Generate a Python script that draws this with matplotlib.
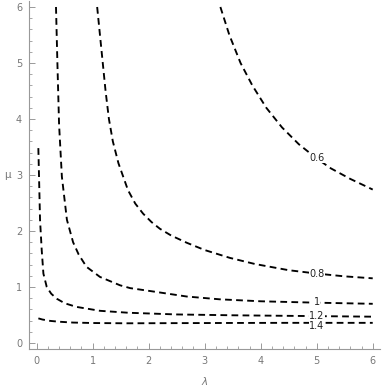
import matplotlib
matplotlib.use("Agg")
import matplotlib.pyplot as plt
from matplotlib.ticker import MultipleLocator

# Contour levels and their traced paths (lambda, mu)
levels = ["0.6", "0.8", "1", "1.2", "1.4"]

lam_06 = [3.28, 3.44, 3.64, 3.85, 4.10, 4.38, 4.68, 4.98, 5.25, 5.60, 6.00]
mu_06 = [6.00, 5.50, 5.00, 4.60, 4.20, 3.85, 3.55, 3.31, 3.12, 2.93, 2.74]

lam_08 = [1.08, 1.11, 1.18, 1.23, 1.29, 1.36, 1.46, 1.63, 1.76, 1.90, 2.05, 2.20, 2.40, 2.68, 3.00, 3.45, 3.90, 4.50, 5.00, 5.50, 6.00]
mu_08 = [6.00, 5.70, 5.00, 4.50, 4.00, 3.60, 3.21, 2.73, 2.49, 2.31, 2.16, 2.04, 1.92, 1.79, 1.66, 1.52, 1.41, 1.30, 1.24, 1.19, 1.155]

lam_10 = [0.345, 0.37, 0.40, 0.45, 0.54, 0.65, 0.75, 0.89, 1.13, 1.49, 1.67, 2.08, 2.68, 3.27, 4.00, 5.00, 6.00]
mu_10 = [6.00, 5.00, 3.90, 2.97, 2.20, 1.80, 1.58, 1.36, 1.18, 1.03, 0.98, 0.92, 0.83, 0.78, 0.745, 0.72, 0.70]

lam_12 = [0.03, 0.06, 0.09, 0.12, 0.18, 0.26, 0.36, 0.50, 0.71, 1.13, 1.64, 2.50, 3.50, 4.00, 5.00, 6.00]
mu_12 = [3.48, 2.20, 1.66, 1.24, 1.00, 0.88, 0.79, 0.71, 0.645, 0.575, 0.54, 0.51, 0.495, 0.49, 0.48, 0.47]

lam_14 = [0.03, 0.10, 0.24, 0.40, 0.65, 1.00, 1.60, 2.50, 3.50, 4.50, 6.00]
mu_14 = [0.44, 0.42, 0.395, 0.38, 0.365, 0.357, 0.352, 0.355, 0.358, 0.36, 0.36]

paths = [(lam_06, mu_06), (lam_08, mu_08), (lam_10, mu_10), (lam_12, mu_12), (lam_14, mu_14)]

# label positions (lambda, mu)
label_lam = [5.0, 5.0, 5.0, 5.0, 5.0]
label_mu = [3.31, 1.24, 0.737, 0.49, 0.30]

xticks = [0, 1, 2, 3, 4, 5, 6]
yticks = [0, 1, 2, 3, 4, 5, 6]

W, H = 382, 389
fig = plt.figure(figsize=(W / 100, H / 100), dpi=100)
ax = fig.add_axes([29 / W, 1 - 349 / H, (380.4 - 29) / W, (349 - 1) / H])

for (lx, ly) in paths:
    ax.plot(lx, ly, color="black", lw=1.35, linestyle=(0, (3.6, 2.3)),
            solid_capstyle="butt", dash_capstyle="butt")

for lab, x, y in zip(levels, label_lam, label_mu):
    ax.text(x, y, lab, ha="center", va="center", fontsize=7, color="#222222",
            bbox=dict(boxstyle="square,pad=0.05", fc="white", ec="none"))

ax.set_xlim(-0.137, 6.137)
ax.set_ylim(-0.107, 6.107)

gray = "#999999"
for s in ["top", "right"]:
    ax.spines[s].set_visible(False)
for s in ["left", "bottom"]:
    ax.spines[s].set_color(gray)
    ax.spines[s].set_linewidth(0.8)

ax.set_xticks(xticks)
ax.set_yticks(yticks)
ax.xaxis.set_minor_locator(MultipleLocator(0.2))
ax.yaxis.set_minor_locator(MultipleLocator(0.2))
ax.tick_params(which="both", direction="in", color=gray, labelcolor="#777777",
               labelsize=7)
ax.tick_params(which="major", length=4, width=0.7, pad=5)
ax.tick_params(which="minor", length=2.2, width=0.6)

fig.text(205 / W, 1 - 381 / H, "$\\lambda$", ha="center", va="center",
         fontsize=7.5, color="#777777")
fig.text(7 / W, 1 - 175 / H, "μ", ha="center", va="center",
         fontsize=7.5, color="#777777")

fig.savefig("out.png", dpi=100)
